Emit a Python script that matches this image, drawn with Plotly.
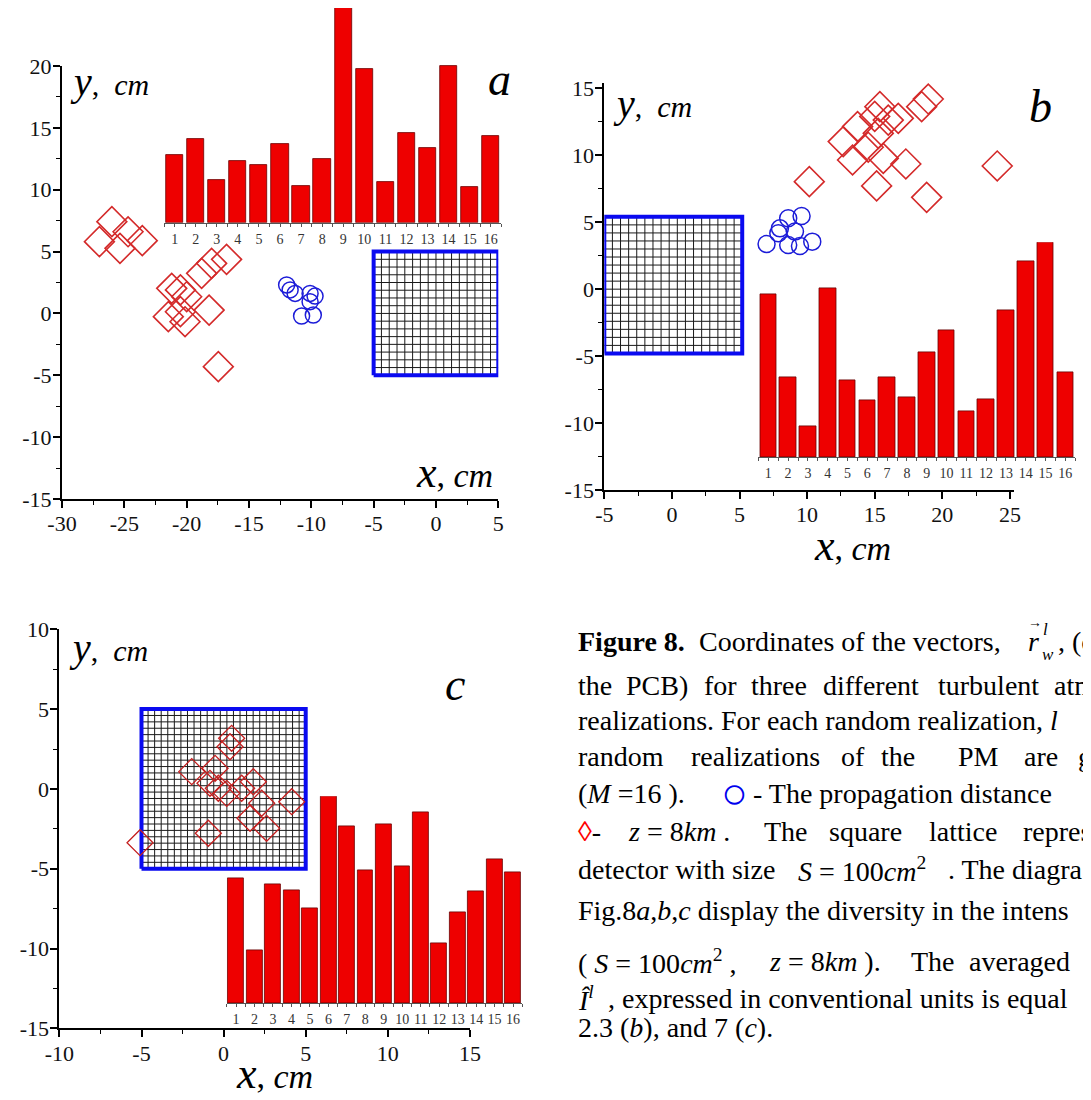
import numpy as np
import plotly.graph_objects as go

W, H = 1091, 1100
# the page places the figure 8 px in from the top-left corner (default body margin)
SHIFT = 8

def px(x):
    return (x - SHIFT) / W

def py(y):
    return 1 - (y - SHIFT) / H

# ---------------- data ----------------
# panel a
a_diamond_x = [-27.0, -26.0, -25.35, -23.56, -24.7, -21.2, -21.47, -20.13, -20.5, -20.0, -20.5, -18.8, -18.0, -16.8, -18.2, -17.46]
a_diamond_y = [5.8, 7.42, 5.26, 5.88, 6.6, 2.03, -0.26, -0.67, 1.9, 1.35, 0.14, 3.24, 4.05, 4.37, 0.27, -4.3]
a_circle_x = [-11.98, -11.3, -10.1, -9.7, -10.1, -10.78, -9.84, -11.7]
a_circle_y = [2.30, 1.62, 1.62, 1.4, 0.95, -0.21, -0.13, 1.9]
a_lattice = [-5.0, 5.0, -5.0, 5.0]
a_cells = 16
a_bars = [6.8, 8.4, 4.3, 6.2, 5.8, 7.9, 3.7, 6.4, 21.7, 15.4, 4.1, 9.0, 7.5, 15.7, 3.6, 8.7]
a_xticks = [-30, -25, -20, -15, -10, -5, 0, 5]
a_yticks = [-15, -10, -5, 0, 5, 10, 15, 20]

# panel b
b_diamond_x = [10.16, 12.67, 13.73, 13.36, 14.52, 15.14, 15.38, 15.0, 16.0, 16.74, 15.63, 15.26, 17.3, 18.47, 18.96, 18.84, 24.06]
b_diamond_y = [8.03, 11.02, 12.14, 9.65, 10.6, 7.71, 13.63, 12.9, 12.63, 12.76, 9.77, 11.64, 9.35, 13.63, 14.2, 6.86, 9.2]
b_circle_x = [7.0, 7.87, 7.99, 8.6, 9.59, 9.1, 8.6, 9.47, 10.38]
b_circle_y = [3.37, 4.17, 4.54, 5.29, 5.47, 4.3, 3.3, 3.22, 3.55]
b_lattice = [-5.0, 5.2, -4.8, 5.4]
b_cells = 17
b_bars = [16.3, 8.0, 3.1, 16.9, 7.7, 5.7, 8.0, 6.0, 10.5, 12.7, 4.6, 5.8, 14.7, 19.6, 21.5, 8.5]
b_xticks = [-5, 0, 5, 10, 15, 20, 25]
b_yticks = [-15, -10, -5, 0, 5, 10, 15]

# panel c
c_diamond_x = [-5.09, -0.93, -1.94, -0.52, 0.39, 0.49, -0.83, -0.32, 0.19, 1.1, 1.81, 2.32, 1.61, 2.62, 4.15]
c_diamond_y = [-3.37, -2.78, 1.08, 1.29, 2.64, 3.17, 0.35, 0.04, -0.28, 0.04, 0.45, -0.9, -1.84, -2.47, -0.8]
c_lattice = [-5.0, 5.0, -5.0, 5.0]
c_cells = 25
c_bars = [12.5, 5.3, 11.9, 11.3, 9.5, 20.7, 17.7, 13.3, 17.9, 13.7, 19.1, 6.0, 9.1, 11.2, 14.4, 13.1]
c_xticks = [-10, -5, 0, 5, 10, 15]
c_yticks = [-15, -10, -5, 0, 5, 10]

bar_index = list(range(1, 17))

# ---------------- figure ----------------
fig = go.Figure()

SERIF = "Liberation Serif"
DIAMOND_COLOR = "#d42a2a"
CIRCLE_COLOR = "#1c1cd8"


def add_lattice(bounds, n, xa, ya):
    x0, x1, y0, y1 = bounds
    xs = np.linspace(x0, x1, n + 1)
    ys = np.linspace(y0, y1, n + 1)
    gx, gy = [], []
    for v in xs[1:-1]:
        gx += [v, v, None]
        gy += [y0, y1, None]
    for v in ys[1:-1]:
        gx += [x0, x1, None]
        gy += [v, v, None]
    fig.add_trace(go.Scatter(x=gx, y=gy, mode="lines", line=dict(color="#1a1a1a", width=1),
                             xaxis=xa, yaxis=ya, hoverinfo="skip", showlegend=False))
    fig.add_trace(go.Scatter(x=[x0, x1, x1, x0, x0], y=[y0, y0, y1, y1, y0], mode="lines",
                             line=dict(color="#0a0af0", width=4), xaxis=xa, yaxis=ya,
                             hoverinfo="skip", showlegend=False))


def add_diamonds(xs, ys, xa, ya, size=23, color=DIAMOND_COLOR, width=1.6):
    fig.add_trace(go.Scatter(x=xs, y=ys, mode="markers", xaxis=xa, yaxis=ya, showlegend=False,
                             marker=dict(symbol="diamond-open", size=size,
                                         color=color, line=dict(color=color, width=width))))


def add_circles(xs, ys, xa, ya, size=16):
    fig.add_trace(go.Scatter(x=xs, y=ys, mode="markers", xaxis=xa, yaxis=ya, showlegend=False,
                             marker=dict(symbol="circle-open", size=size, color=CIRCLE_COLOR,
                                         line=dict(color=CIRCLE_COLOR, width=1.5))))


def add_bars(vals, xa, ya, width=0.84):
    fig.add_trace(go.Bar(x=bar_index, y=vals, width=width, xaxis=xa, yaxis=ya, showlegend=False,
                         marker=dict(color="#ee0000", line=dict(color="#6a0000", width=0.8))))


# panel a
add_lattice(a_lattice, a_cells, "x", "y")
add_diamonds(a_diamond_x, a_diamond_y, "x", "y")
add_circles(a_circle_x, a_circle_y, "x", "y", size=16)
add_bars(a_bars, "x2", "y2", width=0.82)

# panel b
add_lattice(b_lattice, b_cells, "x3", "y3")
add_diamonds(b_diamond_x, b_diamond_y, "x3", "y3")
add_circles(b_circle_x, b_circle_y, "x3", "y3", size=17)
add_bars(b_bars, "x4", "y4", width=0.84)

# panel c
add_lattice(c_lattice, c_cells, "x5", "y5")
add_diamonds(c_diamond_x, c_diamond_y, "x5", "y5", size=20, color="#c42020", width=1.3)
add_bars(c_bars, "x6", "y6", width=0.86)


def main_axis(ticks, rng, domain, anchor, standoff):
    minor_vals = [(ticks[i] + ticks[i + 1]) / 2 for i in range(len(ticks) - 1)]
    return dict(
        domain=domain, range=rng, anchor=anchor, automargin=False,
        tickmode="array", tickvals=ticks, ticktext=[str(t) for t in ticks],
        showline=True, linecolor="black", linewidth=2,
        ticks="outside", ticklen=7, tickwidth=1.5, tickcolor="black",
        ticklabelstandoff=standoff,
        minor=dict(tickmode="array", tickvals=minor_vals, ticks="outside", ticklen=4,
                   tickwidth=1.3, tickcolor="black", showgrid=False),
        showgrid=False, zeroline=False, fixedrange=True,
        tickfont=dict(family=SERIF, size=22, color="#111111"),
    )


def inset_x(domain, anchor):
    return dict(
        domain=domain, range=[0.5, 16.5], anchor=anchor, automargin=False,
        tickmode="array", tickvals=bar_index, ticktext=[str(i) for i in bar_index],
        showline=True, linecolor="#555555", linewidth=1,
        ticks="outside", ticklen=3, tickwidth=1, tickcolor="#555555",
        minor=dict(tickmode="array", tickvals=[i + 0.5 for i in range(0, 17)], ticks="outside",
                   ticklen=3, tickwidth=1, tickcolor="#555555", showgrid=False),
        showgrid=False, zeroline=False, fixedrange=True,
        tickfont=dict(family=SERIF, size=14, color="#333333"),
    )


def inset_y(base_px, top_px, vmax, anchor):
    # keep the scale (vmax spans base_px..top_px) but never leave the paper
    top_clamped = max(top_px, SHIFT)
    rtop = vmax * (base_px - top_clamped) / (base_px - top_px)
    return dict(domain=[py(base_px), min(1.0, py(top_clamped))], range=[0, rtop], anchor=anchor,
                visible=False, fixedrange=True, automargin=False)


XS, YS = -3, -3

layout = dict(
    template="none",
    width=W, height=H, margin=dict(l=0, r=0, t=0, b=0, pad=0, autoexpand=False),
    paper_bgcolor="white", plot_bgcolor="rgba(0,0,0,0)",
    showlegend=False, bargap=0,
    # panel a
    xaxis=main_axis(a_xticks, [-30, 5], [px(62), px(498.3)], "y", XS),
    yaxis=main_axis(a_yticks, [-15, 20], [py(499), py(66)], "x", YS),
    xaxis2=inset_x([px(164.1), px(501.3)], "y2"),
    yaxis2=inset_y(222.7, 5.7, max(a_bars), "x2"),
    # panel b
    xaxis3=main_axis(b_xticks, [-5, 25.3], [px(604.3), px(1014)], "y3", XS),
    yaxis3=main_axis(b_yticks, [-15, 15.42], [py(490), py(82.7)], "x3", YS),
    xaxis4=inset_x([px(758.4), px(1075.2)], "y4"),
    yaxis4=inset_y(457.3, 242.3, max(b_bars), "x4"),
    # panel c
    xaxis5=main_axis(c_xticks, [-10, 15], [px(59.4), px(469.9)], "y5", XS),
    yaxis5=main_axis(c_yticks, [-15, 10], [py(1028.3), py(629.3)], "x5", YS),
    xaxis6=inset_x([px(226.8), px(522.3)], "y6"),
    yaxis6=inset_y(1003.3, 796.3, max(c_bars), "x6"),
)
fig.update_layout(**layout)

annotations = []


def note(text, x, y, size=28, xanchor="left", color="black", yanchor="middle"):
    annotations.append(dict(text=text, x=px(x), y=py(y), xref="paper", yref="paper",
                            xanchor=xanchor, yanchor=yanchor, showarrow=False, borderpad=0,
                            font=dict(family=SERIF, size=size, color=color)))


ylab = "<i>y</i><span style='font-size:30px'>,\u00a0 <i>cm</i></span>"
xlab = "<i>x</i><span style='font-size:34px'>, <i>cm</i></span>"

# panel labels
note(ylab, 69, 82, size=40)
note(xlab, 494, 472, size=44, xanchor="right")
note("<i>a</i>", 499, 80, size=46, xanchor="center")

note(ylab, 612, 103, size=40)
note(xlab, 852, 545, size=44, xanchor="center")
note("<i>b</i>", 1040, 106, size=46, xanchor="center")

note(ylab, 68, 647, size=40)
note(xlab, 274, 1073, size=44, xanchor="center")
note("<i>c</i>", 455, 684, size=46, xanchor="center")

# caption
CAP = 28
caption_lines = [
    (641, [("<b>Figure 8.</b>", 577.3), ("Coordinates of the vectors,", 698.3), ("<i>r</i>", 1026.7), (", (c", 1057.0)]),
    (685, [("the", 577.3), ("PCB)", 625), ("for", 703.3), ("three", 750), ("different", 821.7),
           ("turbulent", 936.7), ("atm", 1053.3)]),
    (720, [("realizations. For each random realization, <i>l</i>", 577.3)]),
    (756, [("random", 577.3), ("realizations", 690), ("of", 840), ("the", 880), ("PM", 956.7),
           ("are", 1023.3), ("g", 1076.7)]),
    (793, [("(<i>M</i> =16 ).", 577.3), ("- The propagation distance", 751.7), ("<i>z</i>", 1081.7)]),
    (831, [("<span style='color:#ff0000'>\u25ca</span>-", 577.3), ("<i>z</i> = 8<i>km</i> .", 626.7),
           ("The", 763.3), ("square", 828.3), ("lattice", 928.3), ("repres", 1021.7)]),
    (869, [("detector with size", 577.3), ("<i>S</i> = 100<i>cm</i><sup>2</sup>", 796.7),
           (". The diagra", 946.7)]),
    (910, [("Fig.8<i>a</i>,<i>b</i>,<i>c</i> display the diversity in the intens", 577.3)]),
    (961, [("( <i>S</i> = 100<i>cm</i><sup>2</sup> ,", 577.3), ("<i>z</i> = 8<i>km</i> ).", 768.3),
           ("The", 910), ("averaged", 968.3)]),
    (998, [("<i>\u00ce</i><sup><i>l</i></sup>", 577.3), (", expressed in conventional units is equal", 606.7)]),
    (1027, [("2.3 (<i>b</i>), and 7 (<i>c</i>).", 577.3)]),
]
for yy, parts in caption_lines:
    for txt, xx in parts:
        note(txt, xx, yy, size=CAP)

# small decorations of the vector symbol and the blue circle in the caption
note("\u2192", 1027, 622, size=14)
note("<i>l</i>", 1042, 629, size=17)
note("<i>w</i>", 1041, 654, size=17)
note("\u25cb", 720, 793, size=44, color="#0000ee")

fig.update_layout(annotations=annotations)

fig.write_html("out.html")
